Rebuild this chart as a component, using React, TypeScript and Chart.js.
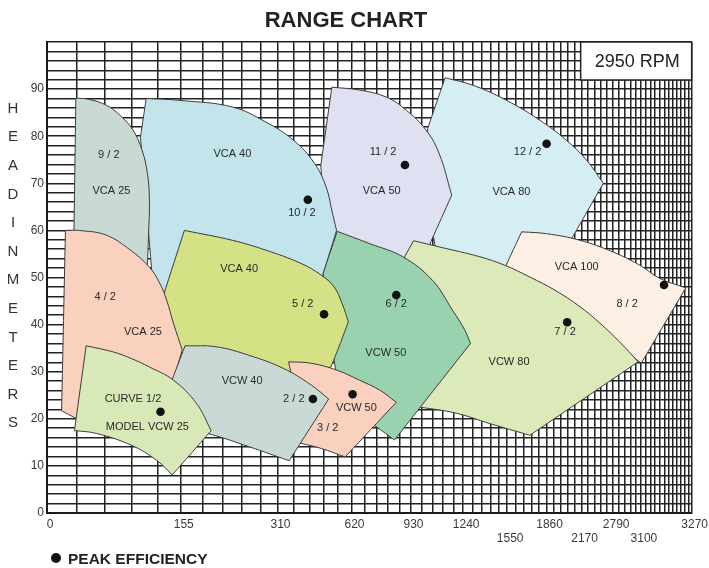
import React, { useEffect, useRef } from 'react';
import { Chart, LinearScale, registerables } from 'chart.js';

// ---------------- axis definition ----------------
// labelled flow ticks along the bottom axis
const X_TICKS = [0, 155, 310, 620, 930, 1240, 1550, 1860, 2170, 2790, 3100, 3270];
// labels printed on the second (lower) row
const X_TICKS_LOWER_ROW = [1550, 2170, 3100];
// grid subdivisions between labelled ticks
const X_GRID_DIVISIONS = [5, 5, 5, 5, 5, 5, 5, 5, 5, 5, 12];
// relative position of each labelled tick along the (non-linear) axis
const X_AXIS_WARP = [0, 0.2075, 0.3575, 0.4724, 0.5639, 0.6456, 0.7138, 0.775, 0.8293, 0.8783, 0.9213, 1];

const Y_MIN = 0;
const Y_MAX = 100;
const Y_GRID_STEP = 2;
const Y_LABEL_STEP = 10;

// ---------------- pump ranges: [flow, head, corner(1) / curve(0)] ----------------
const VCA80_12_2 = [[1128, 92.4, 1], [1306, 90.8, 0], [1546, 87.6, 0], [1804, 83.4, 0], [2033, 79.1, 0], [2264, 74.9, 0], [2588, 70.0, 1], [2080, 58.3, 1], [1724, 49.4, 1], [1093, 51.6, 1], [1024, 66.4, 1], [1026, 81.6, 1]];
const VCA50_11_2 = [[530, 90.4, 1], [658, 89.8, 0], [797, 88.3, 0], [907, 85.5, 0], [1017, 81.3, 0], [1093, 76.3, 0], [1168, 67.5, 1], [1045, 57.6, 1], [1007, 50.5, 1], [568, 53.3, 1], [493, 66.4, 1], [482, 73.8, 1]];
const VCA40_10_2 = [[110, 88.0, 1], [154, 87.6, 0], [232, 86.2, 0], [289, 83.0, 0], [372, 79.1, 0], [456, 74.2, 0], [505, 69.2, 0], [533, 63.6, 0], [551, 60.0, 1], [484, 49.4, 1], [181, 45.2, 1], [120, 45.2, 1], [103, 79.8, 1]];
const VCA25_9_2 = [[30, 88.1, 1], [44.5, 87.8, 0], [63, 86.6, 0], [79, 84.4, 0], [94, 81.3, 0], [105, 77.0, 0], [111.5, 72.1, 0], [114, 66.4, 0], [113, 59.4, 0], [111, 50.5, 1], [26, 53.7, 1], [28, 60.0, 1]];
const VCA100_8_2 = [[1660, 59.7, 1], [1860, 59.3, 0], [2155, 57.9, 0], [2790, 55.4, 0], [3088, 52.6, 0], [3157, 49.8, 0], [3246, 47.8, 1], [3101, 31.8, 1], [2521, 38.8, 1], [1532, 52.0, 1]];
const VCW80_7_2 = [[947, 57.8, 1], [1093, 56.5, 0], [1352, 54.4, 0], [1532, 52.6, 0], [1724, 50.1, 0], [1931, 47.3, 0], [2155, 43.8, 0], [2521, 40.3, 0], [2859, 36.3, 0], [3066, 32.1, 1], [1724, 16.5, 1], [1421, 19.0, 0], [1195, 21.2, 0], [980, 22.5, 1], [868, 28.2, 1], [897, 54.4, 1]];
const VCW50_6_2 = [[554, 59.8, 1], [709, 57.2, 0], [887, 54.4, 0], [1054, 49.4, 0], [1172, 43.1, 0], [1251, 38.8, 0], [1288, 36.0, 1], [841, 15.5, 1], [744, 18.3, 1], [568, 24.0, 1], [526, 36.7, 1], [492, 50.9, 1]];
const VCA40_5_2 = [[160, 60.0, 1], [232, 57.9, 0], [289, 55.8, 0], [400, 53.0, 0], [484, 50.5, 0], [540, 48.0, 0], [576, 44.5, 0], [605, 40.6, 1], [568, 36.0, 1], [526, 31.0, 1], [400, 29.1, 1], [259, 29.9, 1], [161, 31.4, 1], [134, 34.6, 1], [131, 45.8, 1]];
const VCA25_4_2 = [[19, 60.0, 1], [33, 60.0, 0], [63, 59.0, 0], [91, 55.8, 0], [114, 52.2, 0], [127, 48.8, 0], [136, 45.2, 0], [145, 40.3, 0], [157, 34.6, 1], [143, 27.2, 1], [88, 19.7, 1], [30, 20.1, 1], [15, 21.7, 1]];
const VCW50_3_2 = [[352, 32.1, 1], [441, 31.8, 0], [554, 30.3, 0], [658, 28.2, 0], [761, 26.1, 0], [851, 23.5, 1], [590, 11.9, 1], [484, 13.7, 0], [400, 14.8, 1], [359, 15.5, 1], [367, 28.2, 1]];
const VCW40_2_2 = [[161, 35.5, 1], [206, 35.3, 0], [259, 33.5, 0], [332, 30.7, 0], [441, 27.2, 0], [516, 24.2, 1], [354, 11.1, 1], [259, 14.1, 0], [201, 16.6, 0], [168, 17.6, 1], [143, 28.2, 1]];
const VCW25_1_2 = [[41, 35.5, 1], [71, 34.2, 0], [92, 32.8, 0], [114, 31.0, 0], [145, 28.2, 0], [177, 23.3, 0], [199, 17.5, 1], [143.5, 8.1, 1], [123, 11.2, 0], [92, 14.4, 0], [52, 16.9, 0], [28.5, 17.5, 1]];

// peak efficiency points
const PEAK_FLOW = [428, 899, 1860, 496, 851, 2038, 3170, 449, 625, 128];
const PEAK_HEAD = [66.5, 73.9, 78.4, 42.2, 46.3, 40.5, 48.4, 24.2, 25.2, 21.5];

// text inside the ranges: [text, flow, head]
const RANGE_LABELS: [string, number, number][] = [
  ['9 / 2', 66, 76.0], ['VCA 25', 69, 68.4],
  ['VCA 40', 232, 76.3], ['10 / 2', 404, 63.8],
  ['VCA 40', 243, 51.9], ['5 / 2', 407, 44.3],
  ['4 / 2', 62, 45.9], ['VCA 25', 106, 38.5],
  ['CURVE 1/2', 94, 24.2], ['MODEL VCW 25', 111.5, 18.3],
  ['VCW 40', 248, 28.1], ['2 / 2', 372, 24.2],
  ['3 / 2', 512, 18.0], ['VCW 50', 643, 22.2],
  ['6 / 2', 851, 44.3], ['VCW 50', 794, 34.0],
  ['11 / 2', 779, 76.6], ['VCA 50', 772, 68.4],
  ['12 / 2', 1706, 76.7], ['VCA 80', 1582, 68.2],
  ['VCA 100', 2124, 52.3], ['8 / 2', 2939, 44.3],
  ['7 / 2', 2019, 38.5], ['VCW 80', 1564, 32.1],
];

const TITLE = 'RANGE CHART';
const SPEED = '2950 RPM';
const Y_TITLE = 'HEADINMETERS';
const LEGEND_TEXT = 'PEAK EFFICIENCY';

// ---------------- styles (back to front) ----------------
const LAYERS: [number[][], string][] = [
  [VCA80_12_2, '#d5eef4'],
  [VCA50_11_2, '#dfe0f1'],
  [VCA40_10_2, '#c3e4eb'],
  [VCA25_9_2, '#c9dad4'],
  [VCA100_8_2, '#fdefe3'],
  [VCW80_7_2, '#dce9b9'],
  [VCW50_6_2, '#98d2ae'],
  [VCA40_5_2, '#d4e285'],
  [VCA25_4_2, '#fad0be'],
  [VCW50_3_2, '#fad0be'],
  [VCW40_2_2, '#c9dad4'],
  [VCW25_1_2, '#d9e8b7'],
];

const FONT = "'Liberation Sans', Arial, Helvetica, sans-serif";

// ---------------- warped axis (monotone cubic through labelled ticks) ----------------
const WARP = (() => {
  const xs = [0];
  X_GRID_DIVISIONS.forEach((d) => xs.push(xs[xs.length - 1] + d));
  const ys = X_AXIS_WARP;
  const n = xs.length;
  const h: number[] = [];
  const d: number[] = [];
  for (let k = 0; k < n - 1; k++) {
    h.push(xs[k + 1] - xs[k]);
    d.push((ys[k + 1] - ys[k]) / h[k]);
  }
  const m = new Array(n).fill(0);
  for (let k = 1; k < n - 1; k++) {
    if (d[k - 1] * d[k] <= 0) m[k] = 0;
    else {
      const w1 = 2 * h[k] + h[k - 1];
      const w2 = h[k] + 2 * h[k - 1];
      m[k] = (w1 + w2) / (w1 / d[k - 1] + w2 / d[k]);
    }
  }
  const endSlope = (h0: number, h1: number, d0: number, d1: number) => {
    let v = ((2 * h0 + h1) * d0 - h0 * d1) / (h0 + h1);
    if (Math.sign(v) !== Math.sign(d0)) v = 0;
    else if (Math.sign(d0) !== Math.sign(d1) && Math.abs(v) > Math.abs(3 * d0)) v = 3 * d0;
    return v;
  };
  m[0] = endSlope(h[0], h[1], d[0], d[1]);
  m[n - 1] = endSlope(h[n - 2], h[n - 3], d[n - 2], d[n - 3]);
  return { xs, ys, h, m };
})();

function valueToIndex(v: number): number {
  const T = X_TICKS;
  const xs = WARP.xs;
  let k = 0;
  while (k < T.length - 2 && v > T[k + 1]) k++;
  return xs[k] + ((v - T[k]) / (T[k + 1] - T[k])) * (xs[k + 1] - xs[k]);
}

function indexToFraction(i: number): number {
  const { xs, ys, h, m } = WARP;
  const n = xs.length;
  if (i <= xs[0]) return ys[0] + m[0] * (i - xs[0]);
  if (i >= xs[n - 1]) return ys[n - 1] + m[n - 1] * (i - xs[n - 1]);
  let k = 0;
  while (k < n - 2 && i > xs[k + 1]) k++;
  const t = (i - xs[k]) / h[k];
  const t2 = t * t;
  const t3 = t2 * t;
  return (
    (2 * t3 - 3 * t2 + 1) * ys[k] +
    (t3 - 2 * t2 + t) * h[k] * m[k] +
    (-2 * t3 + 3 * t2) * ys[k + 1] +
    (t3 - t2) * h[k] * m[k + 1]
  );
}

class WarpedScale extends (LinearScale as any) {
  static id = 'warped';
  static defaults = { ...((LinearScale as any).defaults || {}) };

  buildTicks() {
    const ticks: { value: number }[] = [];
    for (let k = 0; k < X_TICKS.length - 1; k++) {
      const a = X_TICKS[k];
      const b = X_TICKS[k + 1];
      const n = X_GRID_DIVISIONS[k];
      for (let j = 0; j < n; j++) ticks.push({ value: a + ((b - a) * j) / n });
    }
    ticks.push({ value: X_TICKS[X_TICKS.length - 1] });
    this.min = X_TICKS[0];
    this.max = X_TICKS[X_TICKS.length - 1];
    return ticks;
  }

  getPixelForValue(value: number) {
    if (value === null || value === undefined || isNaN(value)) return NaN;
    return this.getPixelForDecimal(indexToFraction(valueToIndex(value)));
  }

  getValueForPixel(pixel: number) {
    const target = this.getDecimalForPixel(pixel);
    let lo = X_TICKS[0];
    let hi = X_TICKS[X_TICKS.length - 1];
    for (let it = 0; it < 40; it++) {
      const mid = (lo + hi) / 2;
      if (indexToFraction(valueToIndex(mid)) < target) lo = mid;
      else hi = mid;
    }
    return (lo + hi) / 2;
  }
}

Chart.register(...registerables, WarpedScale as any);

const decorations = {
  id: 'rangeDecorations',
  afterDatasetsDraw(chart: any) {
    const { ctx, scales } = chart;
    const x = scales.x;
    const y = scales.y;
    ctx.save();
    ctx.font = `11px ${FONT}`;
    ctx.fillStyle = '#2a2a2a';
    ctx.textAlign = 'center';
    ctx.textBaseline = 'middle';
    for (const [t, f, hd] of RANGE_LABELS) {
      ctx.fillText(t, x.getPixelForValue(f), y.getPixelForValue(hd));
    }
    ctx.restore();
  },
  afterDraw(chart: any) {
    const { ctx, chartArea } = chart;
    ctx.save();
    // speed box
    const bw = 111;
    const bh = 38;
    const bx = chartArea.right - bw;
    const by = chartArea.top;
    ctx.fillStyle = '#ffffff';
    ctx.fillRect(bx, by, bw, bh);
    ctx.strokeStyle = '#222';
    ctx.lineWidth = 1.5;
    ctx.strokeRect(bx, by, bw, bh);
    ctx.fillStyle = '#222';
    ctx.font = `18px ${FONT}`;
    ctx.textAlign = 'center';
    ctx.textBaseline = 'middle';
    ctx.fillText(SPEED, bx + bw / 2 + 1, by + bh / 2 + 1);

    // vertical axis title, one letter per line
    ctx.font = `15px ${FONT}`;
    ctx.fillStyle = '#333';
    const letters = Y_TITLE.split('');
    letters.forEach((c, i) => {
      ctx.fillText(c, 13, 108.7 + i * 28.6);
    });

    // legend
    ctx.beginPath();
    ctx.arc(56, 558, 5, 0, Math.PI * 2);
    ctx.fillStyle = '#111';
    ctx.fill();
    ctx.font = `bold 15.5px ${FONT}`;
    ctx.fillStyle = '#222';
    ctx.textAlign = 'left';
    ctx.fillText(LEGEND_TEXT, 68, 559.5);
    ctx.restore();
  },
};

export default function App() {
  const ref = useRef<HTMLCanvasElement | null>(null);

  useEffect(() => {
    document.body.style.margin = '0';
    document.body.style.overflow = 'hidden';
    const canvas = ref.current;
    if (!canvas) return;

    const order0 = LAYERS.length + 1;
    const shapeSets = LAYERS.map(([pts, color], i) => {
      const data: { x: number; y: number }[] = [];
      pts.forEach(([f, hd, corner], k) => {
        data.push({ x: f, y: hd });
        // a repeated vertex makes a sharp corner on the smoothed outline
        if (corner && k > 0) data.push({ x: f, y: hd });
      });
      data.push({ x: pts[0][0], y: pts[0][1] });
      return {
        type: 'line' as const,
        data,
        backgroundColor: color,
        borderColor: '#3c3c3c',
        borderWidth: 1,
        pointRadius: 0,
        fill: 'shape',
        tension: 0.4,
        order: order0 - i,
      };
    });

    const peaks = {
      type: 'scatter' as const,
      data: PEAK_FLOW.map((f, i) => ({ x: f, y: PEAK_HEAD[i] })),
      pointRadius: 4.3,
      pointBackgroundColor: '#111',
      pointBorderWidth: 0,
      showLine: false,
      order: 0,
    };

    const chart = new Chart(canvas, {
      type: 'line',
      data: { datasets: [peaks as any, ...(shapeSets as any)] },
      options: {
        animation: false,
        responsive: false,
        devicePixelRatio: 1,
        events: [],
        layout: { padding: { left: 0, right: 17, top: 0, bottom: 0 } },
        plugins: {
          legend: { display: false },
          tooltip: { enabled: false },
          title: {
            display: true,
            text: TITLE,
            color: '#222',
            font: { family: FONT, size: 22, weight: 'bold' },
            padding: { top: 8, bottom: 7.6 },
          },
        },
        scales: {
          x: {
            type: 'warped' as any,
            min: X_TICKS[0],
            max: X_TICKS[X_TICKS.length - 1],
            afterFit: (s: any) => {
              s.height = 55;
            },
            grid: { color: '#222', lineWidth: 1.5, drawTicks: false },
            border: { display: true, color: '#1a1a1a', width: 2 },
            ticks: {
              autoSkip: false,
              maxRotation: 0,
              minRotation: 0,
              padding: 4,
              labelOffset: 3,
              color: '#3a3a3a',
              font: { family: FONT, size: 12 },
              callback: (value: any) => {
                const v = Number(value);
                if (!X_TICKS.includes(v)) return '';
                return X_TICKS_LOWER_ROW.includes(v) ? ['', String(v)] : String(v);
              },
            },
          },
          y: {
            type: 'linear',
            min: Y_MIN,
            max: Y_MAX,
            afterFit: (s: any) => {
              s.width = 47;
            },
            grid: { color: '#222', lineWidth: 1.5, drawTicks: false },
            border: { display: true, color: '#1a1a1a', width: 2 },
            ticks: {
              stepSize: Y_GRID_STEP,
              maxTicksLimit: 200,
              autoSkip: false,
              padding: 3,
              color: '#3a3a3a',
              font: { family: FONT, size: 12 },
              callback: (value: any) => {
                const v = Number(value);
                return v % Y_LABEL_STEP === 0 && v < Y_MAX ? String(v) : '';
              },
            },
          },
        } as any,
      },
      plugins: [decorations],
    });

    return () => chart.destroy();
  }, []);

  return (
    <div style={{ width: 709, height: 568 }}>
      <canvas ref={ref} width={709} height={568} style={{ display: 'block' }} />
    </div>
  );
}
